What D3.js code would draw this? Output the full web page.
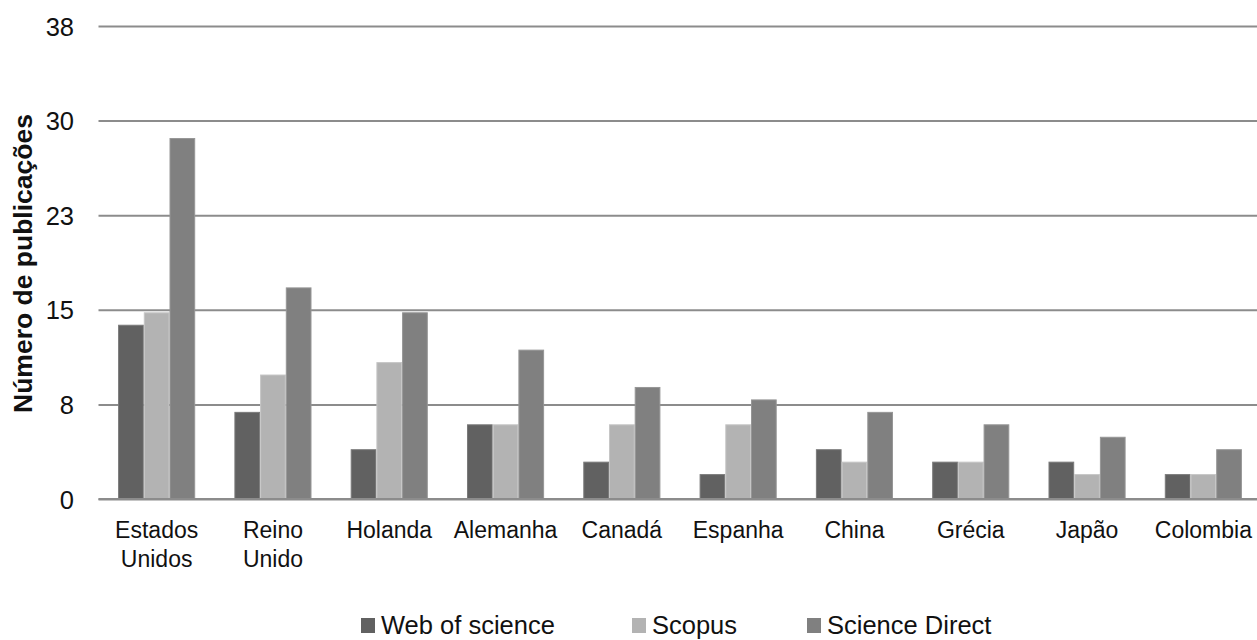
<!DOCTYPE html>
<html>
<head>
<meta charset="utf-8">
<script src="https://cdn.jsdelivr.net/npm/d3@7/dist/d3.min.js"></script>
<style>
  html, body { margin: 0; padding: 0; background: #fff; }
  svg { display: block; font-family: "Liberation Sans", Arial, Helvetica, sans-serif; }
</style>
</head>
<body>
<svg id="chart" width="1257" height="640"></svg>
<script>
// Publications per country, by database
const countries = ["Estados Unidos", "Reino Unido", "Holanda", "Alemanha", "Canadá",
                   "Espanha", "China", "Grécia", "Japão", "Colombia"];
const seriesNames = ["Web of science", "Scopus", "Science Direct"];
const webOfScience  = [14, 7, 4, 6, 3, 2, 4, 3, 3, 2];
const scopus        = [15, 10, 11, 6, 6, 6, 3, 3, 2, 2];
const scienceDirect = [29, 17, 15, 12, 9, 8, 7, 6, 5, 4];
const tickValues = [0, 7.6, 15.2, 22.8, 30.4, 38];
const tickLabels = ["0", "8", "15", "23", "30", "38"];
const yTitle = "Número de publicações";

const colors = ["#616161", "#b3b3b3", "#808080"];
const edgeColors = ["#7a7a7a", "#c6c6c6", "#969696"];
const seriesValues = [webOfScience, scopus, scienceDirect];

const svg = d3.select("#chart");
const plotLeft = 98.5, plotRight = 1261.5, plotTop = 26, plotBottom = 499;

const y = d3.scaleLinear().domain([0, 38]).range([plotBottom, plotTop]);
const pad = 0.337;
const x = d3.scaleBand().domain(countries).range([plotLeft, plotRight])
  .paddingInner(pad).paddingOuter(pad / 2);
const xs = d3.scaleBand().domain(seriesNames).range([0, x.bandwidth()]);

// horizontal gridlines
const yAxis = d3.axisLeft(y).tickValues(tickValues)
  .tickFormat((d, i) => tickLabels[i])
  .tickSize(-(1257 - plotLeft)).tickPadding(0);
const gy = svg.append("g").attr("transform", `translate(${plotLeft},0)`).call(yAxis);
gy.select(".domain").remove();
gy.selectAll(".tick line").attr("stroke", "#8c8c8c").attr("stroke-width", 2);
gy.selectAll(".tick text")
  .attr("x", -24.5).attr("dy", "0.36em")
  .attr("font-size", 25.5).attr("fill", "#111")
  .attr("font-family", "'Liberation Sans', Arial, sans-serif");

// bars
const groups = svg.append("g").selectAll("g")
  .data(countries).join("g")
  .attr("transform", d => `translate(${x(d)},0)`);
groups.selectAll("rect")
  .data((c, ci) => seriesNames.map((s, si) => ({ s, si, v: seriesValues[si][ci] })))
  .join("rect")
  .attr("x", d => xs(d.s) + 0.5)
  .attr("width", xs.bandwidth() - 1)
  .attr("y", d => y(d.v) + 0.5)
  .attr("height", d => y(0) - y(d.v) - 0.5)
  .attr("fill", d => colors[d.si])
  .attr("stroke", d => edgeColors[d.si])
  .attr("stroke-width", 1);

// baseline on top of the bars
svg.append("line")
  .attr("x1", plotLeft).attr("x2", 1257)
  .attr("y1", y(0)).attr("y2", y(0))
  .attr("stroke", "#8c8c8c").attr("stroke-width", 2);

// category labels, wrapped when wider than one band
const xAxis = d3.axisBottom(x).tickSize(0).tickPadding(0);
const gx = svg.append("g").attr("transform", `translate(0,${plotBottom})`).call(xAxis);
gx.select(".domain").remove();
gx.selectAll(".tick text")
  .attr("font-size", 23).attr("fill", "#111").attr("y", 39).attr("dy", 0)
  .attr("font-family", "'Liberation Sans', Arial, sans-serif")
  .each(function (d) {
    const t = d3.select(this);
    if (this.getComputedTextLength() > x.step() - 2 && d.includes(" ")) {
      const words = d.split(" ");
      t.text(null);
      words.forEach((w, i) => {
        t.append("tspan").attr("x", 0).attr("y", 39 + i * 29).text(w);
      });
    }
  });

// y-axis title
svg.append("text")
  .attr("transform", `translate(32,263.5) rotate(-90)`)
  .attr("text-anchor", "middle")
  .attr("font-size", 26.5).attr("font-weight", "bold").attr("fill", "#111")
  .text(yTitle);

// legend
const legendX = [361, 632, 807];
const legend = svg.append("g").selectAll("g")
  .data(seriesNames).join("g")
  .attr("transform", (d, i) => `translate(${legendX[i]},618)`);
legend.append("rect")
  .attr("width", 14).attr("height", 15)
  .attr("fill", (d, i) => colors[i]);
legend.append("text")
  .attr("x", 20).attr("y", 15.5)
  .attr("font-size", 25.5).attr("fill", "#111")
  .text(d => d);
</script>
</body>
</html>
